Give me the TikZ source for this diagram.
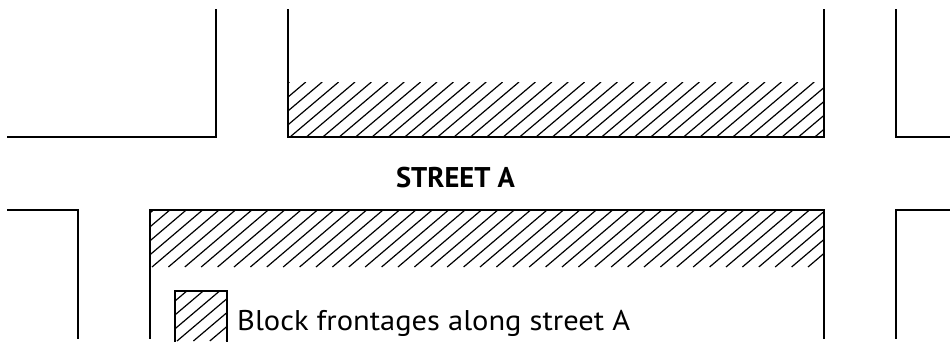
\documentclass[tikz,border=0pt]{standalone}
\usepackage{fontspec}
\newfontfamily\lab{PT Sans}
\newfontfamily\lablong[FakeStretch=1.07]{PT Sans}
\begin{document}
\begin{tikzpicture}[x=1pt,y=-1pt,
  wall/.style={line width=2.2pt,line cap=rect,line join=miter},
  hatchline/.style={line width=1.2pt},
  labtext/.style={font=\lablong\fontsize{28.5}{30}\selectfont,inner sep=0pt,anchor=base west}]
\useasboundingbox (0,0) rectangle (950,341);
% hatching
\begin{scope}
  \clip (288,82) rectangle (824,137);
  \foreach \k in {-5,...,34} \draw[hatchline] (290+16.4*\k,137) -- ++(65,-55);
\end{scope}
\begin{scope}
  \clip (150,210) rectangle (824,267);
  \foreach \k in {-5,...,42} \draw[hatchline] (152+16.4*\k,267) -- ++(67,-57);
\end{scope}
\begin{scope}
  \clip (175,291) rectangle (227,341);
  \foreach \k in {-5,...,4} \draw[hatchline] (177+16.4*\k,341) -- ++(59,-50);
\end{scope}
% blocks
\draw[wall] (8,137) -- (216,137) -- (216,10);
\draw[wall] (288,10) -- (288,137) -- (824,137) -- (824,10);
\draw[wall] (896,10) -- (896,137) -- (952,137);
\draw[wall] (8,210) -- (78,210) -- (78,338);
\draw[wall] (150,338) -- (150,210) -- (824,210) -- (824,338);
\draw[wall] (952,210) -- (896,210) -- (896,338);
\draw[wall] (175,343) -- (175,291) -- (227,291) -- (227,343);
% labels
\node[labtext,font=\lab\bfseries\fontsize{28.5}{30}\selectfont,anchor=base] (street) at (455.5,187) {STREET A};
\node[labtext] (legend) at (237,330) {Block frontages along street A};
\end{tikzpicture}
\end{document}
